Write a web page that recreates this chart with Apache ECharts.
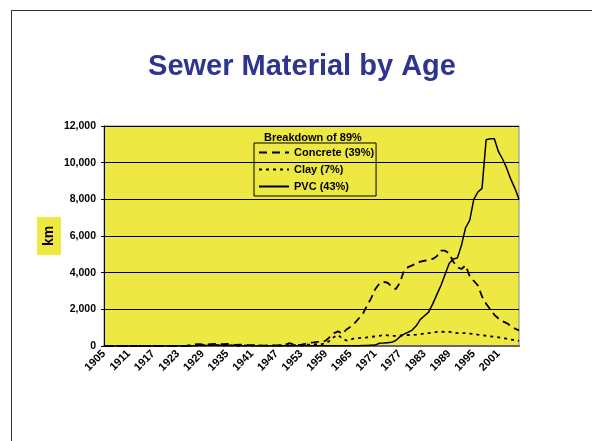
<!DOCTYPE html>
<html>
<head>
<meta charset="utf-8">
<script src="https://cdn.jsdelivr.net/npm/echarts@6/dist/echarts.min.js"></script>
<style>
    body { margin: 0; background: #fff; }
    #wrap { position: relative; width: 592px; height: 441px; }
    #chart { width: 592px; height: 441px; }
    #frame { position: absolute; left: 11px; top: 10px; right: 0; bottom: 0;
             border-left: 1px solid #333; border-top: 1px solid #333; pointer-events: none; }
</style>
</head>
<body>
<div id="wrap">
    <div id="chart"></div>
    <div id="frame"></div>
</div>
<script>
var years = [
    '1905','1906','1907','1908','1909','1910','1911','1912','1913','1914',
    '1915','1916','1917','1918','1919','1920','1921','1922','1923','1924',
    '1925','1926','1927','1928','1929','1930','1931','1932','1933','1934',
    '1935','1936','1937','1938','1939','1940','1941','1942','1943','1944',
    '1945','1946','1947','1948','1949','1950','1951','1952','1953','1954',
    '1955','1956','1957','1958','1959','1960','1961','1962','1963','1964',
    '1965','1966','1967','1968','1969','1970','1971','1972','1973','1974',
    '1975','1976','1977','1978','1979','1980','1981','1982','1983','1984',
    '1985','1986','1987','1988','1989','1990','1991','1992','1993','1994',
    '1995','1996','1997','1998','1999','2000','2001','2002','2003','2004',
    '2005','2006'
];

// km laid per year
var concrete = [
    0, 0, 0, 0, 0, 0, 0, 0, 0, 0,
    0, 0, 0, 0, 0, 0, 0, 0, 0, 0,
    0, 50, 80, 100, 90, 80, 100, 120, 90, 100,
    110, 80, 60, 70, 80, 60, 50, 40, 30, 20,
    20, 30, 30, 40, 60, 150, 100, 60, 80, 120,
    180, 200, 230, 200, 300, 500, 700, 800, 650, 900,
    1050, 1250, 1500, 1750, 2200, 2600, 3100, 3400, 3500, 3450,
    3250, 3100, 3450, 4100, 4300, 4400, 4500, 4600, 4650, 4700,
    4750, 4900, 5200, 5200, 5050, 4600, 4300, 4200, 4400, 3800,
    3550, 3300, 2700, 2300, 2000, 1700, 1500, 1350, 1250, 1100,
    950, 850
];
var clay = [
    0, 0, 0, 0, 0, 0, 0, 0, 0, 0,
    0, 0, 0, 0, 0, 0, 0, 0, 0, 0,
    0, 20, 30, 40, 40, 30, 40, 50, 40, 30,
    40, 30, 30, 20, 30, 20, 20, 20, 20, 20,
    20, 20, 20, 30, 30, 40, 40, 50, 60, 70,
    80, 90, 100, 100, 150, 300, 500, 600, 400, 300,
    350, 420, 430, 450, 470, 500, 520, 550, 600, 580,
    550, 560, 580, 590, 600, 600, 620, 650, 680, 700,
    730, 770, 780, 770, 770, 740, 700, 700, 700, 680,
    660, 620, 590, 560, 530, 500, 470, 430, 400, 350,
    320, 280
];
var pvc = [
    0, 0, 0, 0, 0, 0, 0, 0, 0, 0,
    0, 0, 0, 0, 0, 0, 0, 0, 0, 0,
    0, 10, 20, 30, 40, 30, 40, 50, 40, 30,
    40, 30, 20, 20, 20, 10, 10, 10, 10, 10,
    10, 10, 10, 10, 10, 20, 20, 10, 10, 10,
    10, 10, 10, 10, 10, 10, 10, 10, 20, 20,
    20, 20, 20, 30, 30, 40, 50, 150, 160, 180,
    200, 300, 500, 650, 750, 870, 1100, 1450, 1650, 1850,
    2300, 2800, 3300, 3900, 4500, 4750, 4800, 5500, 6450, 6850,
    8000, 8400, 8600, 11250, 11300, 11300, 10600, 10200, 9700, 9100,
    8600, 8000
];

var yTicks = [0, 2000, 4000, 6000, 8000, 10000, 12000];

var font = 'Liberation Sans, Arial, sans-serif';
var chart = echarts.init(document.getElementById('chart'));

var option = {
    backgroundColor: 'transparent',
    animation: false,
    title: [
        {
            text: 'Sewer Material by Age',
            left: 297,
            top: 47,
            textAlign: 'center',
            textStyle: { color: '#2d3590', fontSize: 29, fontWeight: 'bold', fontFamily: font }
        },
        {
            text: 'Breakdown of 89%',
            left: 259,
            top: 127,
            textStyle: { color: '#000', fontSize: 11, fontWeight: 'bold', fontFamily: font }
        }
    ],
    legend: {
        orient: 'vertical',
        left: 254,
        top: 143,
        padding: [4, 2, 4, 4],
        itemGap: 6,
        itemWidth: 30,
        itemHeight: 12,
        borderColor: '#000',
        borderWidth: 1,
        itemStyle: { color: 'transparent', borderWidth: 0 },
        textStyle: { color: '#000', fontSize: 11, fontWeight: 'bold', fontFamily: font, padding: [0, 2, 0, 0] },
        data: ['Concrete (39%)', 'Clay (7%)', 'PVC (43%)']
    },
    grid: { left: 104, top: 126, right: 73, bottom: 95, backgroundColor: '#eee842', show: true, borderColor: '#888', borderWidth: 1 },
    xAxis: {
        type: 'category',
        data: years,
        boundaryGap: false,
        axisLine: { lineStyle: { color: '#666', width: 2 } },
        axisTick: { show: false },
        axisLabel: {
            interval: 5,
            rotate: 45,
            color: '#000',
            fontSize: 11,
            fontWeight: 'bold',
            fontFamily: font,
            margin: 6
        }
    },
    yAxis: {
        type: 'value',
        min: yTicks[0],
        max: yTicks[yTicks.length - 1],
        interval: 2000,
        name: 'km',
        nameLocation: 'middle',
        nameRotate: 90,
        nameGap: 43,
        nameMoveOverlap: false,
        nameTextStyle: {
            color: '#000', fontSize: 14, fontWeight: 'bold', fontFamily: font,
            backgroundColor: '#eee842', padding: [5, 9, 5, 9]
        },
        axisLine: { show: true, lineStyle: { color: '#000', width: 1 } },
        axisTick: { show: true, length: 3, lineStyle: { color: '#000' } },
        splitLine: { lineStyle: { color: '#000', width: 1 } },
        axisLabel: {
            color: '#000', fontSize: 10.5, fontWeight: 'bold', fontFamily: font, margin: 8,
            formatter: function (v) { return v.toLocaleString('en-US'); }
        }
    },
    series: [
        {
            name: 'Concrete (39%)',
            type: 'line',
            data: concrete,
            symbol: 'none',
            lineStyle: { color: '#000', width: 1.8, type: [8, 5] },
            itemStyle: { color: '#000' }
        },
        {
            name: 'Clay (7%)',
            type: 'line',
            data: clay,
            symbol: 'none',
            lineStyle: { color: '#000', width: 1.8, type: [3, 4] },
            itemStyle: { color: '#000' }
        },
        {
            name: 'PVC (43%)',
            type: 'line',
            data: pvc,
            symbol: 'none',
            lineStyle: { color: '#000', width: 1.5 },
            itemStyle: { color: '#000' }
        }
    ]
};
chart.setOption(option);
</script>
</body>
</html>
